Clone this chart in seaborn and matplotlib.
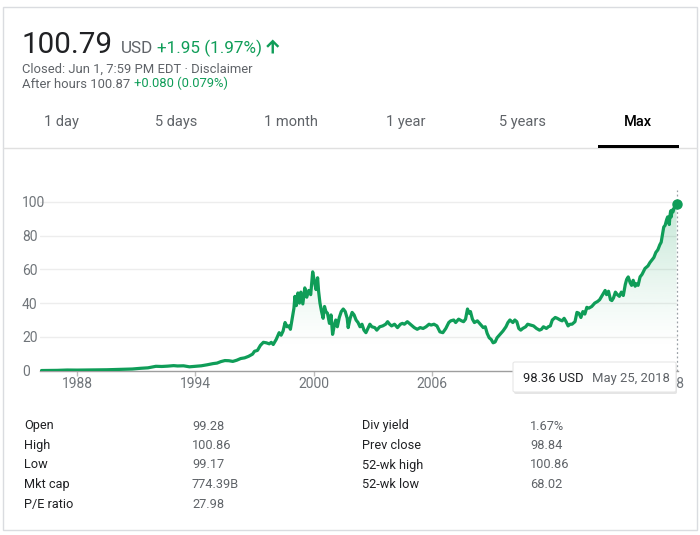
import numpy as np
import pandas as pd
import matplotlib
matplotlib.use("Agg")
import matplotlib.pyplot as plt
import seaborn as sns
from matplotlib.patches import Rectangle, FancyBboxPatch, Polygon
from matplotlib.lines import Line2D

# ---------------- data ----------------
years = [
    1986.2, 1986.6, 1987.0, 1987.5, 1988.0, 1988.5, 1989.0, 1989.5, 1990.0, 1990.5,
    1990.8, 1991.2, 1991.6, 1992.0, 1992.3, 1992.6, 1992.9, 1993.1, 1993.4, 1993.7,
    1994.0, 1994.3, 1994.6, 1994.9, 1995.1, 1995.3, 1995.5, 1995.7, 1995.9, 1996.1,
    1996.3, 1996.5, 1996.7, 1996.9, 1997.0, 1997.15, 1997.3, 1997.45, 1997.6, 1997.75,
    1997.85, 1997.95, 1998.1, 1998.25, 1998.35, 1998.45, 1998.55, 1998.65, 1998.75, 1998.82,
    1998.9, 1999.0, 1999.05, 1999.12, 1999.2, 1999.28, 1999.35, 1999.45, 1999.55, 1999.65,
    1999.75, 1999.85, 1999.95, 2000.05, 2000.12, 2000.2, 2000.25, 2000.32, 2000.4, 2000.48,
    2000.55, 2000.62, 2000.7, 2000.8, 2000.88, 2000.96, 2001.05, 2001.12, 2001.2, 2001.3,
    2001.4, 2001.5, 2001.6, 2001.7, 2001.75, 2001.85, 2001.95, 2002.05, 2002.15, 2002.25,
    2002.35, 2002.45, 2002.55, 2002.65, 2002.75, 2002.85, 2002.95, 2003.1, 2003.2, 2003.35,
    2003.5, 2003.65, 2003.75, 2003.85, 2003.95, 2004.1, 2004.25, 2004.4, 2004.5, 2004.6,
    2004.75, 2004.85, 2004.95, 2005.1, 2005.25, 2005.4, 2005.55, 2005.7, 2005.85, 2005.95,
    2006.1, 2006.25, 2006.4, 2006.55, 2006.7, 2006.85, 2006.95, 2007.1, 2007.2, 2007.35,
    2007.5, 2007.6, 2007.7, 2007.8, 2007.88, 2007.95, 2008.05, 2008.15, 2008.3, 2008.45,
    2008.6, 2008.7, 2008.8, 2008.9, 2009.0, 2009.1, 2009.2, 2009.3, 2009.45, 2009.6,
    2009.75, 2009.85, 2009.95, 2010.1, 2010.2, 2010.3, 2010.4, 2010.5, 2010.6, 2010.75,
    2010.85, 2011.0, 2011.15, 2011.3, 2011.45, 2011.55, 2011.65, 2011.8, 2011.9, 2012.0,
    2012.1, 2012.25, 2012.35, 2012.5, 2012.6, 2012.7, 2012.8, 2012.9, 2013.0, 2013.1,
    2013.25, 2013.35, 2013.45, 2013.55, 2013.65, 2013.75, 2013.85, 2013.95, 2014.1, 2014.25,
    2014.4, 2014.5, 2014.6, 2014.7, 2014.78, 2014.85, 2014.95, 2015.05, 2015.12, 2015.2,
    2015.3, 2015.4, 2015.5, 2015.6, 2015.7, 2015.8, 2015.87, 2015.95, 2016.05, 2016.12,
    2016.2, 2016.3, 2016.35, 2016.45, 2016.55, 2016.65, 2016.8, 2016.95, 2017.05, 2017.15,
    2017.25, 2017.35, 2017.45, 2017.55, 2017.62, 2017.68, 2017.75, 2017.82, 2017.9, 2017.95,
    2018.0, 2018.03, 2018.07, 2018.1, 2018.13, 2018.17, 2018.22, 2018.28, 2018.33, 2018.4,
]
prices = [
    0.1, 0.12, 0.2, 0.4, 0.35, 0.4, 0.4, 0.55, 0.7, 0.9,
    1.0, 1.4, 1.7, 2.6, 2.5, 2.7, 3.0, 2.8, 2.9, 2.3,
    2.6, 2.9, 3.5, 4.2, 4.5, 5.4, 6.0, 5.9, 5.5, 6.2,
    7.2, 7.6, 8.5, 9.8, 11.5, 12.0, 15.0, 16.8, 16.5, 15.9,
    16.8, 15.5, 18.5, 22.5, 21.0, 23.5, 28.5, 26.0, 26.5, 24.5,
    30.0, 37.0, 44.0, 38.5, 46.0, 40.0, 46.5, 39.5, 49.0, 43.5,
    47.5, 45.0, 58.5, 52.0, 48.0, 55.0, 47.0, 40.0, 35.0, 31.0,
    38.0, 35.0, 34.0, 28.0, 33.0, 21.5, 27.0, 30.0, 26.0, 31.5,
    35.0, 36.5, 35.0, 31.0, 25.5, 31.0, 34.5, 33.0, 30.0, 28.5,
    26.0, 27.5, 24.0, 22.5, 25.0, 27.5, 26.0, 25.5, 24.0, 26.0,
    26.5, 27.5, 29.0, 27.5, 26.5, 27.5, 25.5, 27.5, 28.0, 27.5,
    29.0, 28.0, 27.0, 25.5, 24.5, 25.5, 25.0, 26.0, 27.5, 27.0,
    27.5, 26.5, 23.0, 22.5, 25.0, 28.5, 29.5, 30.0, 28.5, 30.5,
    29.5, 29.0, 30.5, 36.5, 34.0, 35.0, 30.5, 28.5, 29.5, 27.5,
    25.5, 26.0, 22.0, 19.5, 18.5, 16.5, 17.0, 19.5, 21.5, 23.5,
    26.0, 28.5, 30.0, 28.5, 30.0, 29.0, 25.0, 24.0, 25.0, 26.0,
    27.5, 27.0, 26.5, 25.0, 24.0, 24.5, 26.0, 25.0, 26.0, 26.5,
    30.0, 31.5, 31.0, 30.0, 29.5, 31.0, 29.0, 26.5, 27.5, 27.5,
    29.0, 34.5, 34.0, 31.5, 35.0, 33.5, 37.5, 37.0, 38.0, 40.0,
    41.0, 42.0, 44.0, 46.0, 47.5, 45.0, 47.0, 42.0, 41.5, 43.0,
    46.5, 45.0, 44.0, 46.5, 44.5, 51.0, 54.0, 55.5, 52.0, 50.5,
    53.5, 50.0, 51.5, 50.5, 55.5, 57.0, 60.5, 62.0, 64.0, 65.5,
    67.0, 70.0, 71.5, 74.5, 76.0, 80.0, 85.0, 86.0, 89.5, 91.0,
    89.0, 86.5, 92.0, 94.5, 91.0, 95.0, 94.0, 96.5, 97.5, 98.36,
]
y_ticks = [0, 20, 40, 60, 80, 100]
x_ticks = [1988, 1994, 2000, 2006, 2012, 2018]
x_tick_labels = ["1988", "1994", "2000", "2006", "", "2018"]
tabs = ["1 day", "5 days", "1 month", "1 year", "5 years", "Max"]
stat_labels_left = ["Open", "High", "Low", "Mkt cap", "P/E ratio"]
stat_values_left = ["99.28", "100.86", "99.17", "774.39B", "27.98"]
stat_labels_right = ["Div yield", "Prev close", "52-wk high", "52-wk low"]
stat_values_right = ["1.67%", "98.84", "100.86", "68.02"]

df = pd.DataFrame({"year": years, "price": prices})

# ---------------- style ----------------
sns.set_theme(style="white")
plt.rcParams["font.family"] = ["Roboto", "DejaVu Sans"]

GREEN = "#0f9d58"
GRAY = "#70757a"
MID = "#5f6368"
DARK = "#202124"

W, H = 700, 535
fig = plt.figure(figsize=(W / 100, H / 100), dpi=100)
fig.patch.set_facecolor("white")
renderer = fig.canvas.get_renderer()

def X(px):
    return px / W

def Y(py):
    return 1 - py / H

def ftxt(x, y, s, **kw):
    kw.setdefault("va", "baseline")
    kw.setdefault("ha", "left")
    return fig.text(X(x), Y(y), s, **kw)

def right_px(t):
    return t.get_window_extent(renderer).x1

# card border
fig.patches.append(Rectangle((X(3), Y(530)), 694 / W, 523 / H, transform=fig.transFigure,
                             fill=False, edgecolor="#dadce0", lw=1, zorder=0))
# tab separator
fig.lines.append(Line2D([X(3), X(697)], [Y(147.5), Y(147.5)], transform=fig.transFigure,
                        color="#e0e0e0", lw=1))
# Max underline
fig.patches.append(Rectangle((X(598), Y(148)), 81 / W, 3 / H, transform=fig.transFigure,
                             facecolor="#000000", edgecolor="none", zorder=2))

# header texts
ftxt(22, 53, "100.79", fontsize=21.3, color=DARK)
t_usd = ftxt(121, 53, "USD", fontsize=12.3, color=MID)
t_chg = ftxt(right_px(t_usd) + 4, 53, "+1.95 (1.97%)", fontsize=12.3, color=GREEN)
ax0 = right_px(t_chg) + 4
# bold up arrow (material style)
arrow_pts = [(6.5, 0), (13, 6.5), (11.3, 8.2), (7.7, 4.6), (7.7, 14), (5.3, 14),
             (5.3, 4.6), (1.7, 8.2), (0, 6.5)]
fig.patches.append(Polygon([(X(ax0 + px), Y(39.5 + py)) for px, py in arrow_pts],
                           closed=True, transform=fig.transFigure, facecolor=GREEN,
                           edgecolor="none", zorder=3))

ftxt(22, 73, "Closed: Jun 1, 7:59 PM EDT \u00b7 Disclaimer", fontsize=9.4, color=MID)
t_ah = ftxt(22, 87.5, "After hours 100.87", fontsize=9.4, color=MID)
ftxt(right_px(t_ah) + 3.5, 87.5, "+0.080 (0.079%)", fontsize=9.4, color=GREEN)

tab_x = [61, 176, 291, 406, 522, 638]
for t, tx in zip(tabs, tab_x):
    if t == "Max":
        ftxt(tx, 126, t, fontsize=10.5, color="#000000", ha="center", fontweight="medium")
    else:
        ftxt(tx, 126, t, fontsize=10.5, color=MID, ha="center")

# ---------------- chart ----------------
ax_l, ax_r, ax_t, ax_b = 40, 678, 190, 370.7
ax = fig.add_axes([X(ax_l), Y(ax_b), (ax_r - ax_l) / W, (ax_b - ax_t) / H])
ax.set_facecolor("none")

px_per_year = (432 - 77) / 18.0
xmin = 1988 - (77 - ax_l) / px_per_year
xmax = 1988 + (ax_r - 77) / px_per_year
px_per_unit = (370.7 - 201.7) / 100.0
ymax = (ax_b - ax_t) / px_per_unit

# gradient fill under the line
poly = ax.fill_between(df["year"], df["price"], 0, color="none", lw=0)
grad = np.zeros((256, 1, 4))
grad[:, 0, 0:3] = matplotlib.colors.to_rgb(GREEN)
vals = np.linspace(0, ymax, 256)
grad[:, 0, 3] = np.clip((vals - 12) / 88, 0, 1) ** 1.3 * 0.25
im = ax.imshow(grad, extent=[xmin, xmax, 0, ymax], origin="lower", aspect="auto", zorder=1)
im.set_clip_path(poly.get_paths()[0], transform=ax.transData)

sns.lineplot(data=df, x="year", y="price", ax=ax, color=GREEN, linewidth=2.3, zorder=3)
ax.plot([years[-1]], [prices[-1]], "o", color=GREEN, markersize=6.5, clip_on=False, zorder=4)
ax.plot([years[-1], years[-1]], [0, ymax], color="#9aa0a6", lw=0.9, ls=(0, (1.5, 2)),
        zorder=2, clip_on=False)

ax.set_xlim(xmin, xmax)
ax.set_ylim(0, ymax)
for v in y_ticks[1:]:
    ax.axhline(v, color="#ededed", lw=1, zorder=0)

ax.set_yticks(y_ticks)
ax.set_yticklabels([str(v) for v in y_ticks], ha="left")
ax.tick_params(axis="y", length=0, pad=13, labelsize=10, labelcolor=GRAY)
ax.set_xticks(x_ticks)
ax.set_xticklabels(x_tick_labels)
ax.tick_params(axis="x", length=3.6, width=1, color="#bdbdbd", direction="out", pad=0.8,
               labelsize=10, labelcolor=GRAY, bottom=True)
ax.set_xlabel("")
ax.set_ylabel("")
for s in ["top", "right", "left"]:
    ax.spines[s].set_visible(False)
ax.spines["bottom"].set_color("#9e9e9e")
ax.spines["bottom"].set_linewidth(1)

# tooltip
tb_x0, tb_y0, tb_x1, tb_y1 = 513, 362, 676, 392
fig.patches.append(FancyBboxPatch((X(tb_x0 + 1), Y(tb_y1 + 2)), (tb_x1 - tb_x0) / W,
                                  (tb_y1 - tb_y0) / H,
                                  boxstyle="round,pad=0,rounding_size=0.003",
                                  transform=fig.transFigure, facecolor="#000000", alpha=0.10,
                                  edgecolor="none", zorder=5))
fig.patches.append(FancyBboxPatch((X(tb_x0), Y(tb_y1)), (tb_x1 - tb_x0) / W, (tb_y1 - tb_y0) / H,
                                  boxstyle="round,pad=0,rounding_size=0.003",
                                  transform=fig.transFigure, facecolor="white",
                                  edgecolor="#e6e6e6", lw=0.8, zorder=6))
t1 = ftxt(523, 382, "98.36 USD", fontsize=9.4, color=DARK, zorder=7)
ftxt(right_px(t1) + 8, 382, "May 25, 2018", fontsize=9.4, color=MID, zorder=7)

# stats table
rows_y = [429.5, 449, 468.5, 488, 508]
for i, (lab, val) in enumerate(zip(stat_labels_left, stat_values_left)):
    ftxt(24, rows_y[i], lab, fontsize=9.2, color=DARK)
    ftxt(192, rows_y[i], val, fontsize=9.2, color=MID)
for i, (lab, val) in enumerate(zip(stat_labels_right, stat_values_right)):
    ftxt(362, rows_y[i], lab, fontsize=9.2, color=DARK)
    ftxt(530, rows_y[i], val, fontsize=9.2, color=MID)

fig.savefig("out.png", dpi=100, facecolor="white")
